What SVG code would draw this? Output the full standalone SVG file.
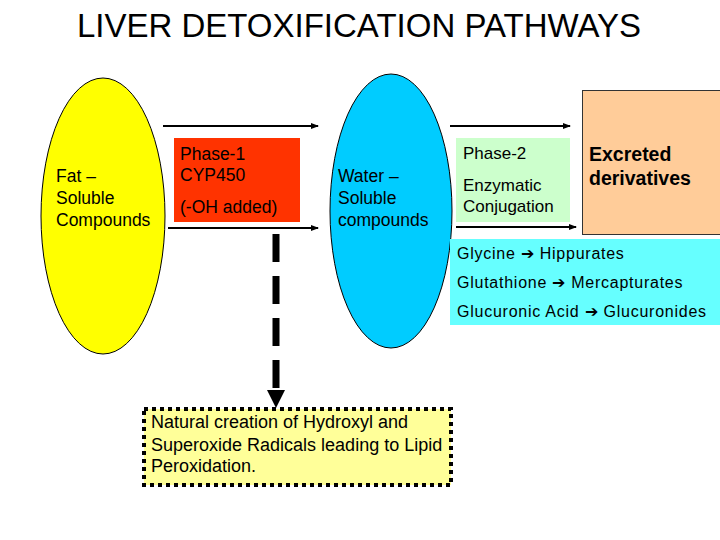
<svg xmlns="http://www.w3.org/2000/svg" width="720" height="540" viewBox="0 0 720 540">
<defs>
<style>
text{font-family:"Liberation Sans",Arial,sans-serif;fill:#000}
.t{font-size:17.5px}
.g{font-size:17px}
.s{font-size:16px;letter-spacing:0.75px}
.b{font-size:19.5px;font-weight:bold}
.ar{stroke:#000;stroke-width:2;fill:none}
</style>
<marker id="ah" markerWidth="8" markerHeight="6" refX="7" refY="3" orient="auto" markerUnits="userSpaceOnUse">
<path d="M0,0 L8,3 L0,6 Z" fill="#000"/>
</marker>
</defs>
<rect width="720" height="540" fill="#fff"/>
<text x="359" y="37" text-anchor="middle" style="font-size:33px">LIVER DETOXIFICATION PATHWAYS</text>

<g id="fat">
<ellipse cx="103" cy="216" rx="62" ry="138" fill="#FFFF00" stroke="#000" stroke-width="1"/>
<text class="t" x="56" y="182">Fat –</text>
<text class="t" x="56" y="204">Soluble</text>
<text class="t" x="56" y="226">Compounds</text>
</g>

<g id="phase1">
<rect x="174" y="138" width="126" height="84" fill="#FF3300"/>
<text class="t" x="180" y="160">Phase-1</text>
<text class="t" x="180" y="181">CYP450</text>
<text class="t" x="180" y="213">(-OH added)</text>
</g>

<g id="water">
<ellipse cx="391" cy="211" rx="61" ry="137" fill="#00CCFF" stroke="#000" stroke-width="1"/>
<text class="t" x="338" y="182">Water –</text>
<text class="t" x="338" y="204">Soluble</text>
<text class="t" x="338" y="226">compounds</text>
</g>

<g id="phase2">
<rect x="456" y="138" width="114" height="84" fill="#CCFFCC"/>
<text class="g" x="463" y="159">Phase-2</text>
<text class="g" x="463" y="191">Enzymatic</text>
<text class="g" x="463" y="212">Conjugation</text>
</g>

<g id="excreted">
<rect x="582.5" y="90.5" width="140" height="144" fill="#FFCC99" stroke="#333" stroke-width="1"/>
<text class="b" x="589" y="161">Excreted</text>
<text class="b" x="589" y="185">derivatives</text>
</g>

<g id="conjugates">
<rect x="450" y="239" width="270" height="86" fill="#66FFFF"/>
<text class="s" x="457" y="259">Glycine ➔ Hippurates</text>
<text class="s" x="457" y="288">Glutathione ➔ Mercapturates</text>
<text class="s" x="457" y="317">Glucuronic Acid ➔ Glucuronides</text>
</g>

<g id="radicals">
<rect x="144" y="409" width="307" height="76" fill="#FFFF99" stroke="#000" stroke-width="4" stroke-dasharray="4 4"/>
<text class="t" x="151" y="428" style="font-size:18px">Natural creation of Hydroxyl and</text>
<text class="t" x="151" y="451" style="font-size:18px">Superoxide Radicals leading to Lipid</text>
<text class="t" x="151" y="472" style="font-size:18px">Peroxidation.</text>
</g>

<g id="connectors">
<line class="ar" x1="163" y1="126" x2="318" y2="126" marker-end="url(#ah)"/>
<line class="ar" x1="168" y1="228" x2="318" y2="228" marker-end="url(#ah)"/>
<line class="ar" x1="450" y1="126" x2="570" y2="126" marker-end="url(#ah)"/>
<line class="ar" x1="456" y1="227" x2="576" y2="227" marker-end="url(#ah)"/>
<line x1="276" y1="234" x2="276" y2="390" stroke="#000" stroke-width="7" stroke-dasharray="28 14"/>
<path d="M267,390 L285,390 L276,408 Z" fill="#000"/>
</g>
</svg>
